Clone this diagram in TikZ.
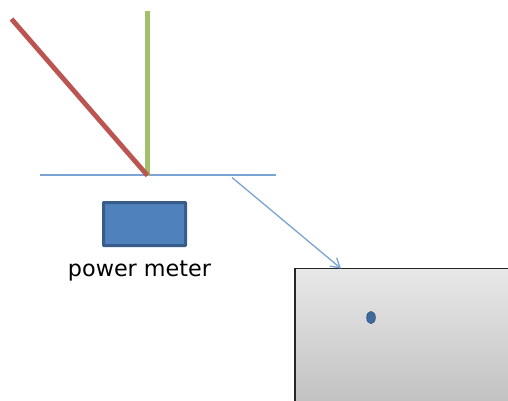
\documentclass[tikz,border=0pt]{standalone}
\usetikzlibrary{arrows.meta,shapes.geometric}
\usepackage{fontspec}
\setmainfont{DejaVu Sans}
\definecolor{beam}{HTML}{7CA3D3}
\definecolor{redbar}{HTML}{BC5551}
\definecolor{greenbar}{HTML}{A3BF6A}
\definecolor{meterfill}{HTML}{4F81BD}
\definecolor{meterline}{HTML}{385D8A}
\begin{document}
\begin{tikzpicture}[x=1pt,y=-1pt,
  thinline/.style={draw=beam,line width=1.3pt},
  bar/.style={line width=4.8pt},
  meterbox/.style={draw=meterline,fill=meterfill,line width=3pt,rounded corners=0.5pt,inner sep=0pt,minimum width=82pt,minimum height=43pt},
  spot/.style={ellipse,draw=meterline,fill=meterfill!35!meterline,inner sep=0pt,line width=1pt,minimum width=8.5pt,minimum height=12pt}]
\useasboundingbox (0,0) rectangle (508,401);
\fill[white] (0,0) rectangle (508,401);
\coordinate (mirrorL) at (40,175);
\coordinate (mirrorR) at (276,175);
\coordinate (hit) at (147.5,175.5);
\coordinate (redEnd) at (11.5,19);
\coordinate (greenEnd) at (147.5,11);
\coordinate (arrowStart) at (232,177.5);
\coordinate (arrowEnd) at (341,268.5);
\draw[thinline] (mirrorL) -- (mirrorR);
\draw[bar,greenbar] (greenEnd) -- (hit);
\draw[bar,redbar] (redEnd) -- (hit);
\node[meterbox] (meter) at (144.5,224) {};
\node[anchor=base,font=\fontsize{22.3}{26}\selectfont,inner sep=0pt] (label) at (139.5,276) {power meter};
\path[top color=black!9,bottom color=black!24,draw=none] (295,269) rectangle (508,401);
\draw[line width=1.3pt,black!85] (295,401) -- (295,268.5) -- (508,268.5);
\draw[thinline,-{Straight Barb[length=9pt,width=11pt,line width=1.3pt]}] (arrowStart) -- (arrowEnd);
\node[spot] (dot) at (371,317.5) {};
\end{tikzpicture}
\end{document}
